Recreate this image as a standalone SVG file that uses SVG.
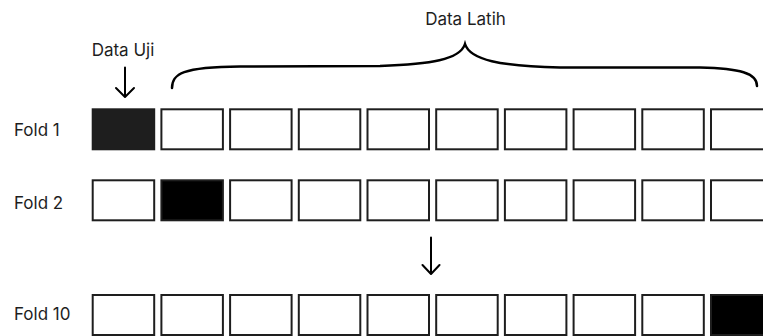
<svg xmlns="http://www.w3.org/2000/svg" width="763" height="336" viewBox="0 0 763 336">
<defs>
<style>
text{font-family:Inter,"Noto Sans",sans-serif;font-size:17px;fill:#1e1e1e}
.b{fill:#fff;stroke:#1e1e1e;stroke-width:2}
.k{fill:#000;stroke:#1e1e1e;stroke-width:2}
.d{fill:#1e1e1e;stroke:#1e1e1e;stroke-width:2}
.c{fill:none;stroke:#000;stroke-width:2;stroke-linecap:round;stroke-linejoin:round}
.br{fill:none;stroke:#000;stroke-width:2.5;stroke-linecap:round}
</style>
<rect id="cell" width="61.5" height="40"/>
</defs>
<rect width="763" height="336" fill="#fff"/>
<g id="labels">
<text x="14" y="136">Fold 1</text>
<text x="14" y="208.5">Fold 2</text>
<text x="14" y="319.5">Fold 10</text>
<text x="123" y="56" text-anchor="middle">Data Uji</text>
<text x="465.5" y="25" text-anchor="middle">Data Latih</text>
</g>
<g id="fold1" transform="translate(0,109.3)">
<use href="#cell" x="92.7" class="d"/>
<use href="#cell" x="161.4" class="b"/>
<use href="#cell" x="230.1" class="b"/>
<use href="#cell" x="298.8" class="b"/>
<use href="#cell" x="367.5" class="b"/>
<use href="#cell" x="436.2" class="b"/>
<use href="#cell" x="504.9" class="b"/>
<use href="#cell" x="573.6" class="b"/>
<use href="#cell" x="642.3" class="b"/>
<use href="#cell" x="711" class="b"/>
</g>
<g id="fold2" transform="translate(0,180.3)">
<use href="#cell" x="92.7" class="b"/>
<use href="#cell" x="161.4" class="k"/>
<use href="#cell" x="230.1" class="b"/>
<use href="#cell" x="298.8" class="b"/>
<use href="#cell" x="367.5" class="b"/>
<use href="#cell" x="436.2" class="b"/>
<use href="#cell" x="504.9" class="b"/>
<use href="#cell" x="573.6" class="b"/>
<use href="#cell" x="642.3" class="b"/>
<use href="#cell" x="711" class="b"/>
</g>
<g id="fold10" transform="translate(0,295)">
<use href="#cell" x="92.7" class="b"/>
<use href="#cell" x="161.4" class="b"/>
<use href="#cell" x="230.1" class="b"/>
<use href="#cell" x="298.8" class="b"/>
<use href="#cell" x="367.5" class="b"/>
<use href="#cell" x="436.2" class="b"/>
<use href="#cell" x="504.9" class="b"/>
<use href="#cell" x="573.6" class="b"/>
<use href="#cell" x="642.3" class="b"/>
<use href="#cell" x="711" class="k"/>
</g>
<g id="connectors">
<path class="c" d="M125,67.5 V96.5 M116,88 L125,97 L134,88"/>
<path class="c" d="M431,237.5 V273.5 M422.5,265 L431,274 L439.5,265"/>
<path class="br" d="M172,88 C172,74 182,67 240,66.5 L380,66 C430,64 460,60 465,44 C470,60 500,66 560,67.5 L700,67.5 C740,68.5 757,73 757,86"/>
</g>
</svg>
